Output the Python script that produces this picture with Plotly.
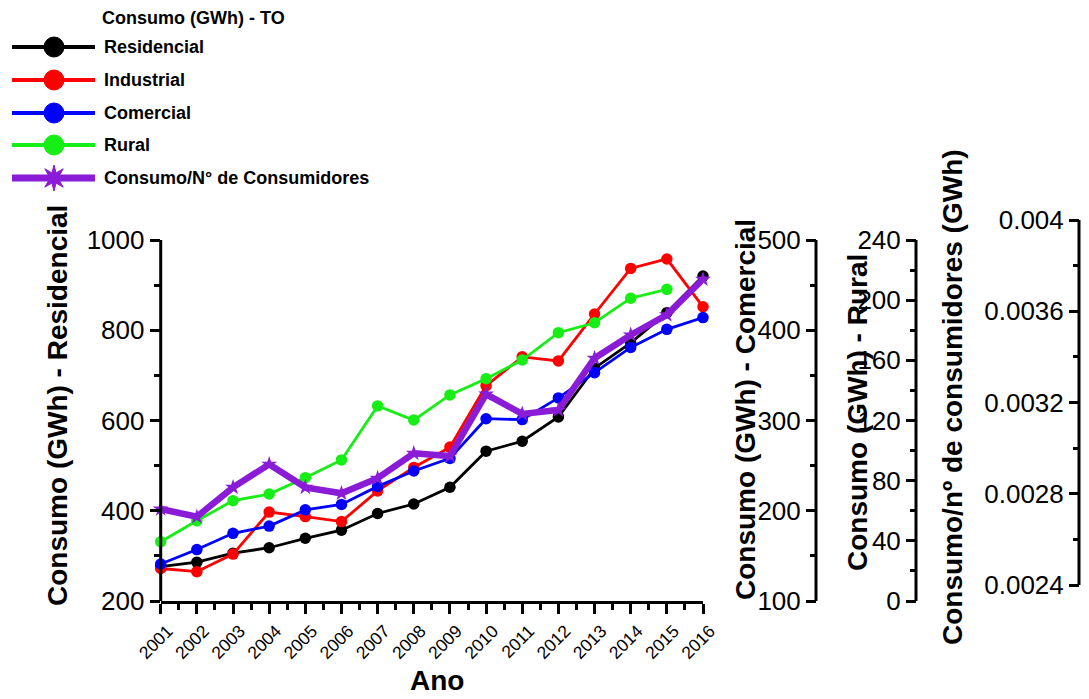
import math
import plotly.graph_objects as go

# ---- data -------------------------------------------------------------
anos = list(range(2001, 2017))
residencial = [276, 286, 306, 318, 339, 357, 394, 415, 452, 532, 554, 608, 716, 772, 839, 920]
industrial = [272, 265, 304, 397, 387, 376, 444, 496, 541, 677, 741, 732, 836, 937, 958, 852]
comercial = [141, 157, 175, 183, 201, 207, 227, 244, 258, 302, 301, 325, 353, 381, 401, 414]
rural = [39.4, 53.4, 66.7, 71.1, 82.0, 93.8, 129.7, 120.3, 137.0, 147.8, 160.2,
         178.4, 185.0, 201.3, 207.2, None]
consumo_por_consumidor = [0.002733, 0.002699, 0.002828, 0.002929, 0.002828, 0.002802,
                          0.002868, 0.002977, 0.002965, 0.003237, 0.003150, 0.003167,
                          0.003394, 0.003496, 0.003584, 0.003740]

legend_title = "Consumo (GWh) - TO"
series_names = ["Residencial", "Industrial", "Comercial", "Rural", "Consumo/N° de Consumidores"]

# labelled span of each vertical scale
res_span = (200, 1000)
com_span = (100, 500)
rur_span = (0, 240)
rat_span = (0.0024, 0.004)

# ---- figure geometry (pixels) -----------------------------------------
W, H = 1089, 699
FONT = "Liberation Sans, Arial, sans-serif"


def px_x(p):
    return p / W


def px_y(p):
    return 1 - p / H


BLACK, RED, BLUE, GREEN, PURPLE = "#000000", "#ff0000", "#0000ff", "#16ee16", "#8a1bd6"

# plotting box shared by every vertical scale
x0_px, x1_px = 160.7, 703.0
box_top, box_bot = 220.0, 601.0
# where each scale's labelled span sits (top px, bottom px)
main_top, main_bot = 240.0, 601.0
ratio_top, ratio_bot = 220.0, 585.0


def extended_range(span, top_px, bot_px):
    """Range that places span between top_px and bot_px inside the shared box."""
    lo, hi = span
    per_px = (hi - lo) / (bot_px - top_px)
    return [lo - (box_bot - bot_px) * per_px, hi + (top_px - box_top) * per_px]


fig = go.Figure()

line_traces = [
    (residencial, "Residencial", BLACK, "y"),
    (industrial, "Industrial", RED, "y"),
    (rural, "Rural", GREEN, "y3"),
    (comercial, "Comercial", BLUE, "y2"),
]
for vals, name, color, yax in line_traces:
    fig.add_trace(go.Scatter(
        x=anos, y=vals, name=name, yaxis=yax, mode="lines+markers",
        line=dict(color=color, width=2.8),
        marker=dict(color=color, size=11.5, symbol="circle"),
        cliponaxis=False, showlegend=False,
    ))

fig.add_trace(go.Scatter(
    x=anos, y=consumo_por_consumidor, name="Consumo/N° de Consumidores", yaxis="y4",
    mode="lines+markers",
    line=dict(color=PURPLE, width=6.5),
    marker=dict(color=PURPLE, size=12, symbol="star"),
    cliponaxis=False, showlegend=False,
))

# ---- axes --------------------------------------------------------------
tick_common = dict(
    showgrid=False, zeroline=False, automargin=False,
    ticks="outside", ticklen=10, tickwidth=2.5, tickcolor="black",
    tickfont=dict(family=FONT, size=26, color="black"),
)
minor_common = dict(ticks="outside", ticklen=6, tickwidth=2.5, tickcolor="black", showgrid=False)

y_positions = {"y": x0_px, "y2": 816.0, "y3": 916.0, "y4": 1079.0}

fig.update_layout(
    width=W, height=H,
    margin=dict(l=0, r=0, t=0, b=0, autoexpand=False),
    paper_bgcolor="white", plot_bgcolor="rgba(0,0,0,0)",
    showlegend=False,
    xaxis=dict(
        domain=[px_x(x0_px), px_x(x1_px)], range=[2001, 2016], anchor="y",
        tickmode="linear", tick0=2001, dtick=1, tickangle=-45, ticklabelshift=7,
        showline=True, linecolor="black", linewidth=3,
        minor=dict(dtick=0.5, tick0=2001, **minor_common),
        **{**tick_common, "tickfont": dict(family=FONT, size=17.5, color="black")},
    ),
    yaxis=dict(
        domain=[px_y(box_bot), px_y(box_top)], anchor="x",
        range=extended_range(res_span, main_top, main_bot),
        dtick=200, tick0=200, minor=dict(dtick=100, tick0=200, **minor_common),
        showline=False, **tick_common,
    ),
    yaxis2=dict(
        overlaying="y", anchor="free", position=px_x(y_positions["y2"]), side="left",
        range=extended_range(com_span, main_top, main_bot), dtick=100, tick0=100,
        minor=dict(dtick=50, tick0=100, **minor_common), showline=False, **tick_common,
    ),
    yaxis3=dict(
        overlaying="y", anchor="free", position=px_x(y_positions["y3"]), side="left",
        range=extended_range(rur_span, main_top, main_bot), dtick=40, tick0=0,
        minor=dict(dtick=20, tick0=0, **minor_common), showline=False, **tick_common,
    ),
    yaxis4=dict(
        overlaying="y", anchor="free", position=px_x(y_positions["y4"]), side="left",
        range=extended_range(rat_span, ratio_top, ratio_bot), dtick=0.0004, tick0=0.0024,
        minor=dict(dtick=0.0002, tick0=0.0024, **minor_common), showline=False, **tick_common,
    ),
)

# axis spines only across each labelled span
for yref, span in [("y", res_span), ("y2", com_span), ("y3", rur_span), ("y4", rat_span)]:
    xp = px_x(y_positions[yref])
    fig.add_shape(
        type="line", xref="paper", yref=yref, x0=xp, x1=xp, y0=span[0], y1=span[1],
        line=dict(color="black", width=3), layer="above",
    )

# ---- axis titles -------------------------------------------------------
title_font = dict(family=FONT, size=28, color="black")
axis_titles = [
    ("Consumo (GWh) - Residencial", 57, 406),
    ("Consumo (GWh) - Comercial", 745, 410),
    ("Consumo (GWh) - Rural", 857, 413),
    ("Consumo/nº de consumidores (GWh)", 952, 397),
]
for text, cx, cy in axis_titles:
    fig.add_annotation(
        text=f"<b>{text}</b>", xref="paper", yref="paper", x=px_x(cx), y=px_y(cy),
        xanchor="center", yanchor="middle", textangle=-90, showarrow=False, font=title_font,
    )
fig.add_annotation(
    text="<b>Ano</b>", xref="paper", yref="paper", x=px_x(437), y=px_y(680),
    xanchor="center", yanchor="middle", showarrow=False,
    font=dict(family=FONT, size=28, color="black"),
)

# ---- legend block ------------------------------------------------------
leg_font = dict(family=FONT, size=18, color="black")
fig.add_annotation(
    text=f"<b>{legend_title}</b>", xref="paper", yref="paper", x=px_x(100), y=px_y(18),
    xanchor="left", yanchor="middle", showarrow=False, font=leg_font,
)
legend_colors = [BLACK, RED, BLUE, GREEN, PURPLE]
row_y = [47, 80, 113, 145, 178]
for name, color, ry in zip(series_names, legend_colors, row_y):
    is_ratio = color == PURPLE
    fig.add_shape(
        type="line", xref="paper", yref="paper",
        x0=px_x(12), x1=px_x(95), y0=px_y(ry), y1=px_y(ry),
        line=dict(color=color, width=7 if is_ratio else 4),
    )
    if is_ratio:
        pts = []
        for k in range(16):
            r = 13 if k % 2 == 0 else 5.5
            a = math.pi / 2 + k * math.pi / 8
            pts.append((r * math.cos(a), r * math.sin(a)))
        path = "M " + " L ".join(f"{x:.2f},{y:.2f}" for x, y in pts) + " Z"
        fig.add_shape(
            type="path", xref="paper", yref="paper", xsizemode="pixel", ysizemode="pixel",
            xanchor=px_x(54), yanchor=px_y(ry), path=path,
            fillcolor=color, line=dict(color=color, width=1),
        )
    else:
        fig.add_shape(
            type="circle", xref="paper", yref="paper", xsizemode="pixel", ysizemode="pixel",
            xanchor=px_x(54), yanchor=px_y(ry), x0=-10, x1=10, y0=-10, y1=10,
            fillcolor=color, line=dict(color=color, width=1),
        )
    fig.add_annotation(
        text=f"<b>{name}</b>", xref="paper", yref="paper", x=px_x(102), y=px_y(ry),
        xanchor="left", yanchor="middle", showarrow=False, font=leg_font,
    )

fig.write_html("out.html")
